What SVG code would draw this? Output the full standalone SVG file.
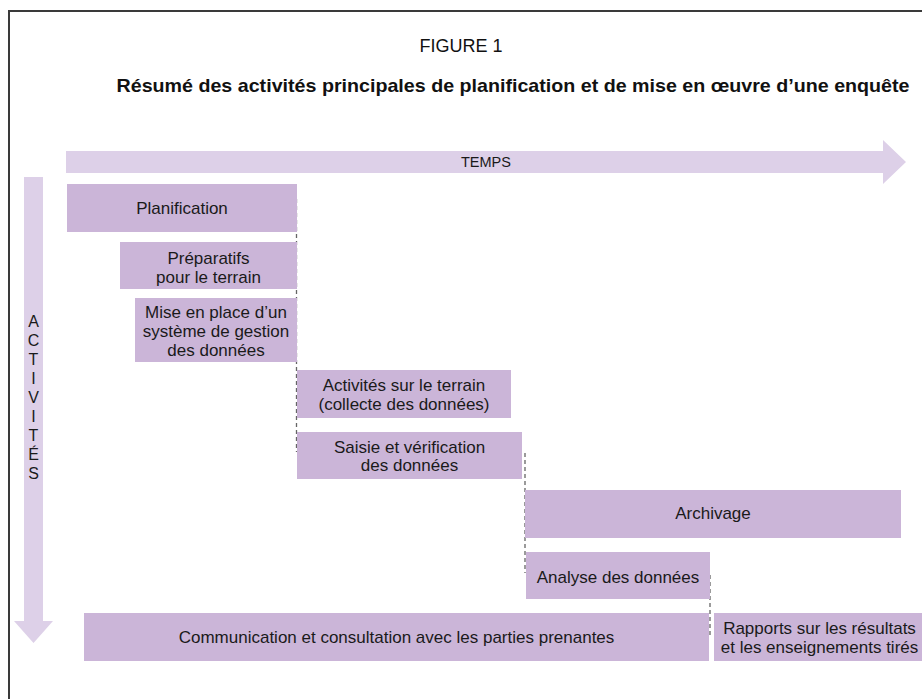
<svg xmlns="http://www.w3.org/2000/svg" width="922" height="699" viewBox="0 0 922 699">
<style>
.box{fill:#cbb5d8}
.arr{fill:#ddd0e8}
.t{font-family:"Liberation Sans","Arial",sans-serif;font-size:17px;fill:#1a1a1a;text-anchor:middle}
.dash{stroke:#666;stroke-width:1.3;stroke-dasharray:4 3;fill:none}
</style>
<rect x="0" y="0" width="922" height="699" fill="#fff"/>
<path d="M9 699 V11 H922" fill="none" stroke="#3a3a3a" stroke-width="2"/>
<text x="461" y="52" font-family="Liberation Sans, sans-serif" font-size="18" text-anchor="middle" fill="#111">FIGURE 1</text>
<text x="513" y="92" font-family="Liberation Sans, sans-serif" font-size="19" font-weight="bold" text-anchor="middle" fill="#111" textLength="793" lengthAdjust="spacingAndGlyphs">Résumé des activités principales de planification et de mise en œuvre d’une enquête</text>

<g id="temps">
<path class="arr" d="M66 151 H883 V140 L906 162 L883 184 V173 H66 Z"/>
<text class="t" x="486" y="167" style="font-size:14.5px">TEMPS</text>
</g>
<g id="activites">
<path class="arr" d="M24 177 H43 V621 H53 L33.5 643 L14 621 H24 Z"/>
<g class="t" style="font-size:16px">
<text x="33.5" y="327">A</text>
<text x="33.5" y="346">C</text>
<text x="33.5" y="365">T</text>
<text x="33.5" y="384">I</text>
<text x="33.5" y="403">V</text>
<text x="33.5" y="422">I</text>
<text x="33.5" y="441">T</text>
<text x="33.5" y="460">É</text>
<text x="33.5" y="479">S</text>
</g>
</g>

<g id="connectors">
<line class="dash" x1="296.5" y1="199" x2="296.5" y2="452"/>
<line class="dash" x1="525" y1="453" x2="525" y2="573"/>
<line class="dash" x1="710" y1="575" x2="710" y2="637"/>
</g>

<g id="planification">
<rect class="box" x="67" y="184" width="230" height="48"/>
<text class="t" x="182" y="214">Planification</text>
</g>
<g id="preparatifs">
<rect class="box" x="120" y="242" width="177" height="47"/>
<text class="t" x="208.5" y="264">Préparatifs</text>
<text class="t" x="208.5" y="283">pour le terrain</text>
</g>
<g id="gestion">
<rect class="box" x="135" y="298" width="162" height="64"/>
<text class="t" x="216" y="318">Mise en place d’un</text>
<text class="t" x="216" y="337">système de gestion</text>
<text class="t" x="216" y="356">des données</text>
</g>
<g id="terrain">
<rect class="box" x="297" y="370" width="214" height="48"/>
<text class="t" x="404" y="391">Activités sur le terrain</text>
<text class="t" x="404" y="410">(collecte des données)</text>
</g>
<g id="saisie">
<rect class="box" x="297" y="432" width="225" height="47"/>
<text class="t" x="409.5" y="453">Saisie et vérification</text>
<text class="t" x="409.5" y="471">des données</text>
</g>
<g id="archivage">
<rect class="box" x="525" y="490" width="376" height="48"/>
<text class="t" x="713" y="519">Archivage</text>
</g>
<g id="analyse">
<rect class="box" x="526" y="552" width="184" height="47"/>
<text class="t" x="618" y="583">Analyse des données</text>
</g>
<g id="communication">
<rect class="box" x="84" y="613" width="625" height="48"/>
<text class="t" x="396.5" y="643">Communication et consultation avec les parties prenantes</text>
</g>
<g id="rapports">
<rect class="box" x="714" y="613" width="208" height="48"/>
<text class="t" x="819.5" y="634">Rapports sur les résultats</text>
<text class="t" x="819.5" y="653">et les enseignements tirés</text>
</g>
</svg>
